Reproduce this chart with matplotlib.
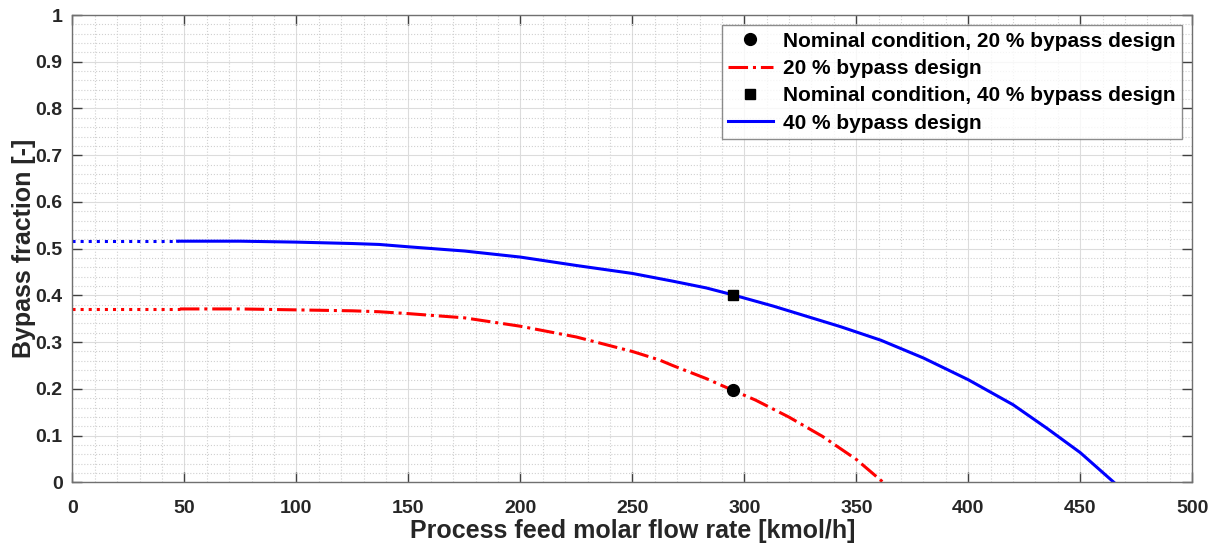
import matplotlib
matplotlib.use("Agg")
import matplotlib.pyplot as plt
from matplotlib.ticker import MultipleLocator

plt.rcParams['font.family'] = ['Liberation Sans', 'DejaVu Sans']
plt.rcParams['font.weight'] = 'bold'

# 20 % bypass design curve
x20 = [48, 75, 100, 125, 137, 150, 175, 200, 225, 250, 262, 268, 283, 295, 305,
       320, 335, 350, 362]
y20 = [0.371, 0.371, 0.369, 0.367, 0.365, 0.361, 0.352, 0.334, 0.311, 0.280, 0.262,
       0.250, 0.222, 0.1966, 0.176, 0.1394, 0.098, 0.049, 0.0]
# dotted extension (low-flow region)
x20_ext = [0, 48]
y20_ext = [0.371, 0.371]

# 40 % bypass design curve
x40 = [47, 75, 100, 125, 137, 150, 175, 200, 225, 250, 262, 268, 283, 295, 313,
       328, 343, 361, 380, 400, 420, 435, 450, 465]
y40 = [0.516, 0.516, 0.514, 0.511, 0.509, 0.504, 0.495, 0.482, 0.464, 0.447, 0.436,
       0.4305, 0.416, 0.401, 0.377, 0.355, 0.333, 0.304, 0.266, 0.2195, 0.166, 0.116,
       0.0635, 0.0]
x40_ext = [0, 47]
y40_ext = [0.516, 0.516]

# Nominal conditions
nom_x = 295
nom20_y = 0.1966
nom40_y = 0.401

fig = plt.figure(figsize=(12.14, 5.44), dpi=100)
ax = fig.add_axes([0.0596, 0.1134, 0.9821 - 0.0596, 0.9724 - 0.1134])

ax.plot(x20_ext, y20_ext, color='red', linestyle=':', linewidth=2.2)
ax.plot(x40_ext, y40_ext, color='blue', linestyle=':', linewidth=2.2)

h1, = ax.plot([nom_x], [nom20_y], 'o', color='black', markersize=8.5, zorder=5,
              label='Nominal condition, 20 % bypass design')
h2, = ax.plot(x20, y20, color='red', linestyle='-.', linewidth=2.2,
              label='20 % bypass design')
h3, = ax.plot([nom_x], [nom40_y], 's', color='black', markersize=7.5, zorder=5,
              label='Nominal condition, 40 % bypass design')
h4, = ax.plot(x40, y40, color='blue', linestyle='-', linewidth=2.2,
              label='40 % bypass design')

ax.set_xlim(0, 500)
ax.set_ylim(0, 1)
ax.xaxis.set_major_locator(MultipleLocator(50))
ax.xaxis.set_minor_locator(MultipleLocator(10))
ax.yaxis.set_minor_locator(MultipleLocator(0.02))
ax.set_yticks([i / 10 for i in range(11)])
ax.set_yticklabels(['0', '0.1', '0.2', '0.3', '0.4', '0.5', '0.6', '0.7', '0.8', '0.9', '1'])

ax.grid(which='major', color='#dcdcdc', linestyle='-', linewidth=0.8)
ax.grid(which='minor', color='#d0d0d0', linestyle=':', linewidth=0.8)
ax.set_axisbelow(True)

ax.tick_params(which='major', direction='in', length=7, width=1.0, color='#404040',
               top=True, right=True, labelsize=14, labelcolor='#262626')
ax.tick_params(axis='x', which='major', pad=13)
ax.tick_params(axis='y', which='major', pad=7)
ax.tick_params(which='minor', length=0, top=True, right=True)
for lab in ax.get_xticklabels() + ax.get_yticklabels():
    lab.set_fontweight('bold')
for s in ax.spines.values():
    s.set_color('#707070')
    s.set_linewidth(1.0)

ax.set_xlabel('Process feed molar flow rate [kmol/h]', fontsize=18, fontweight='bold',
              color='#262626', labelpad=1)
ax.set_ylabel('Bypass fraction [-]', fontsize=18, fontweight='bold', color='#262626',
              labelpad=0)

leg = ax.legend(handles=[h1, h2, h3, h4], loc='upper right', fontsize=15,
                frameon=True, fancybox=False, edgecolor='#707070',
                borderaxespad=0.5, handlelength=2.15, borderpad=0.3,
                labelspacing=0.4, handletextpad=0.5)
leg.get_frame().set_linewidth(1.0)
for t in leg.get_texts():
    t.set_fontweight('bold')

fig.savefig('out.png', dpi=100)
